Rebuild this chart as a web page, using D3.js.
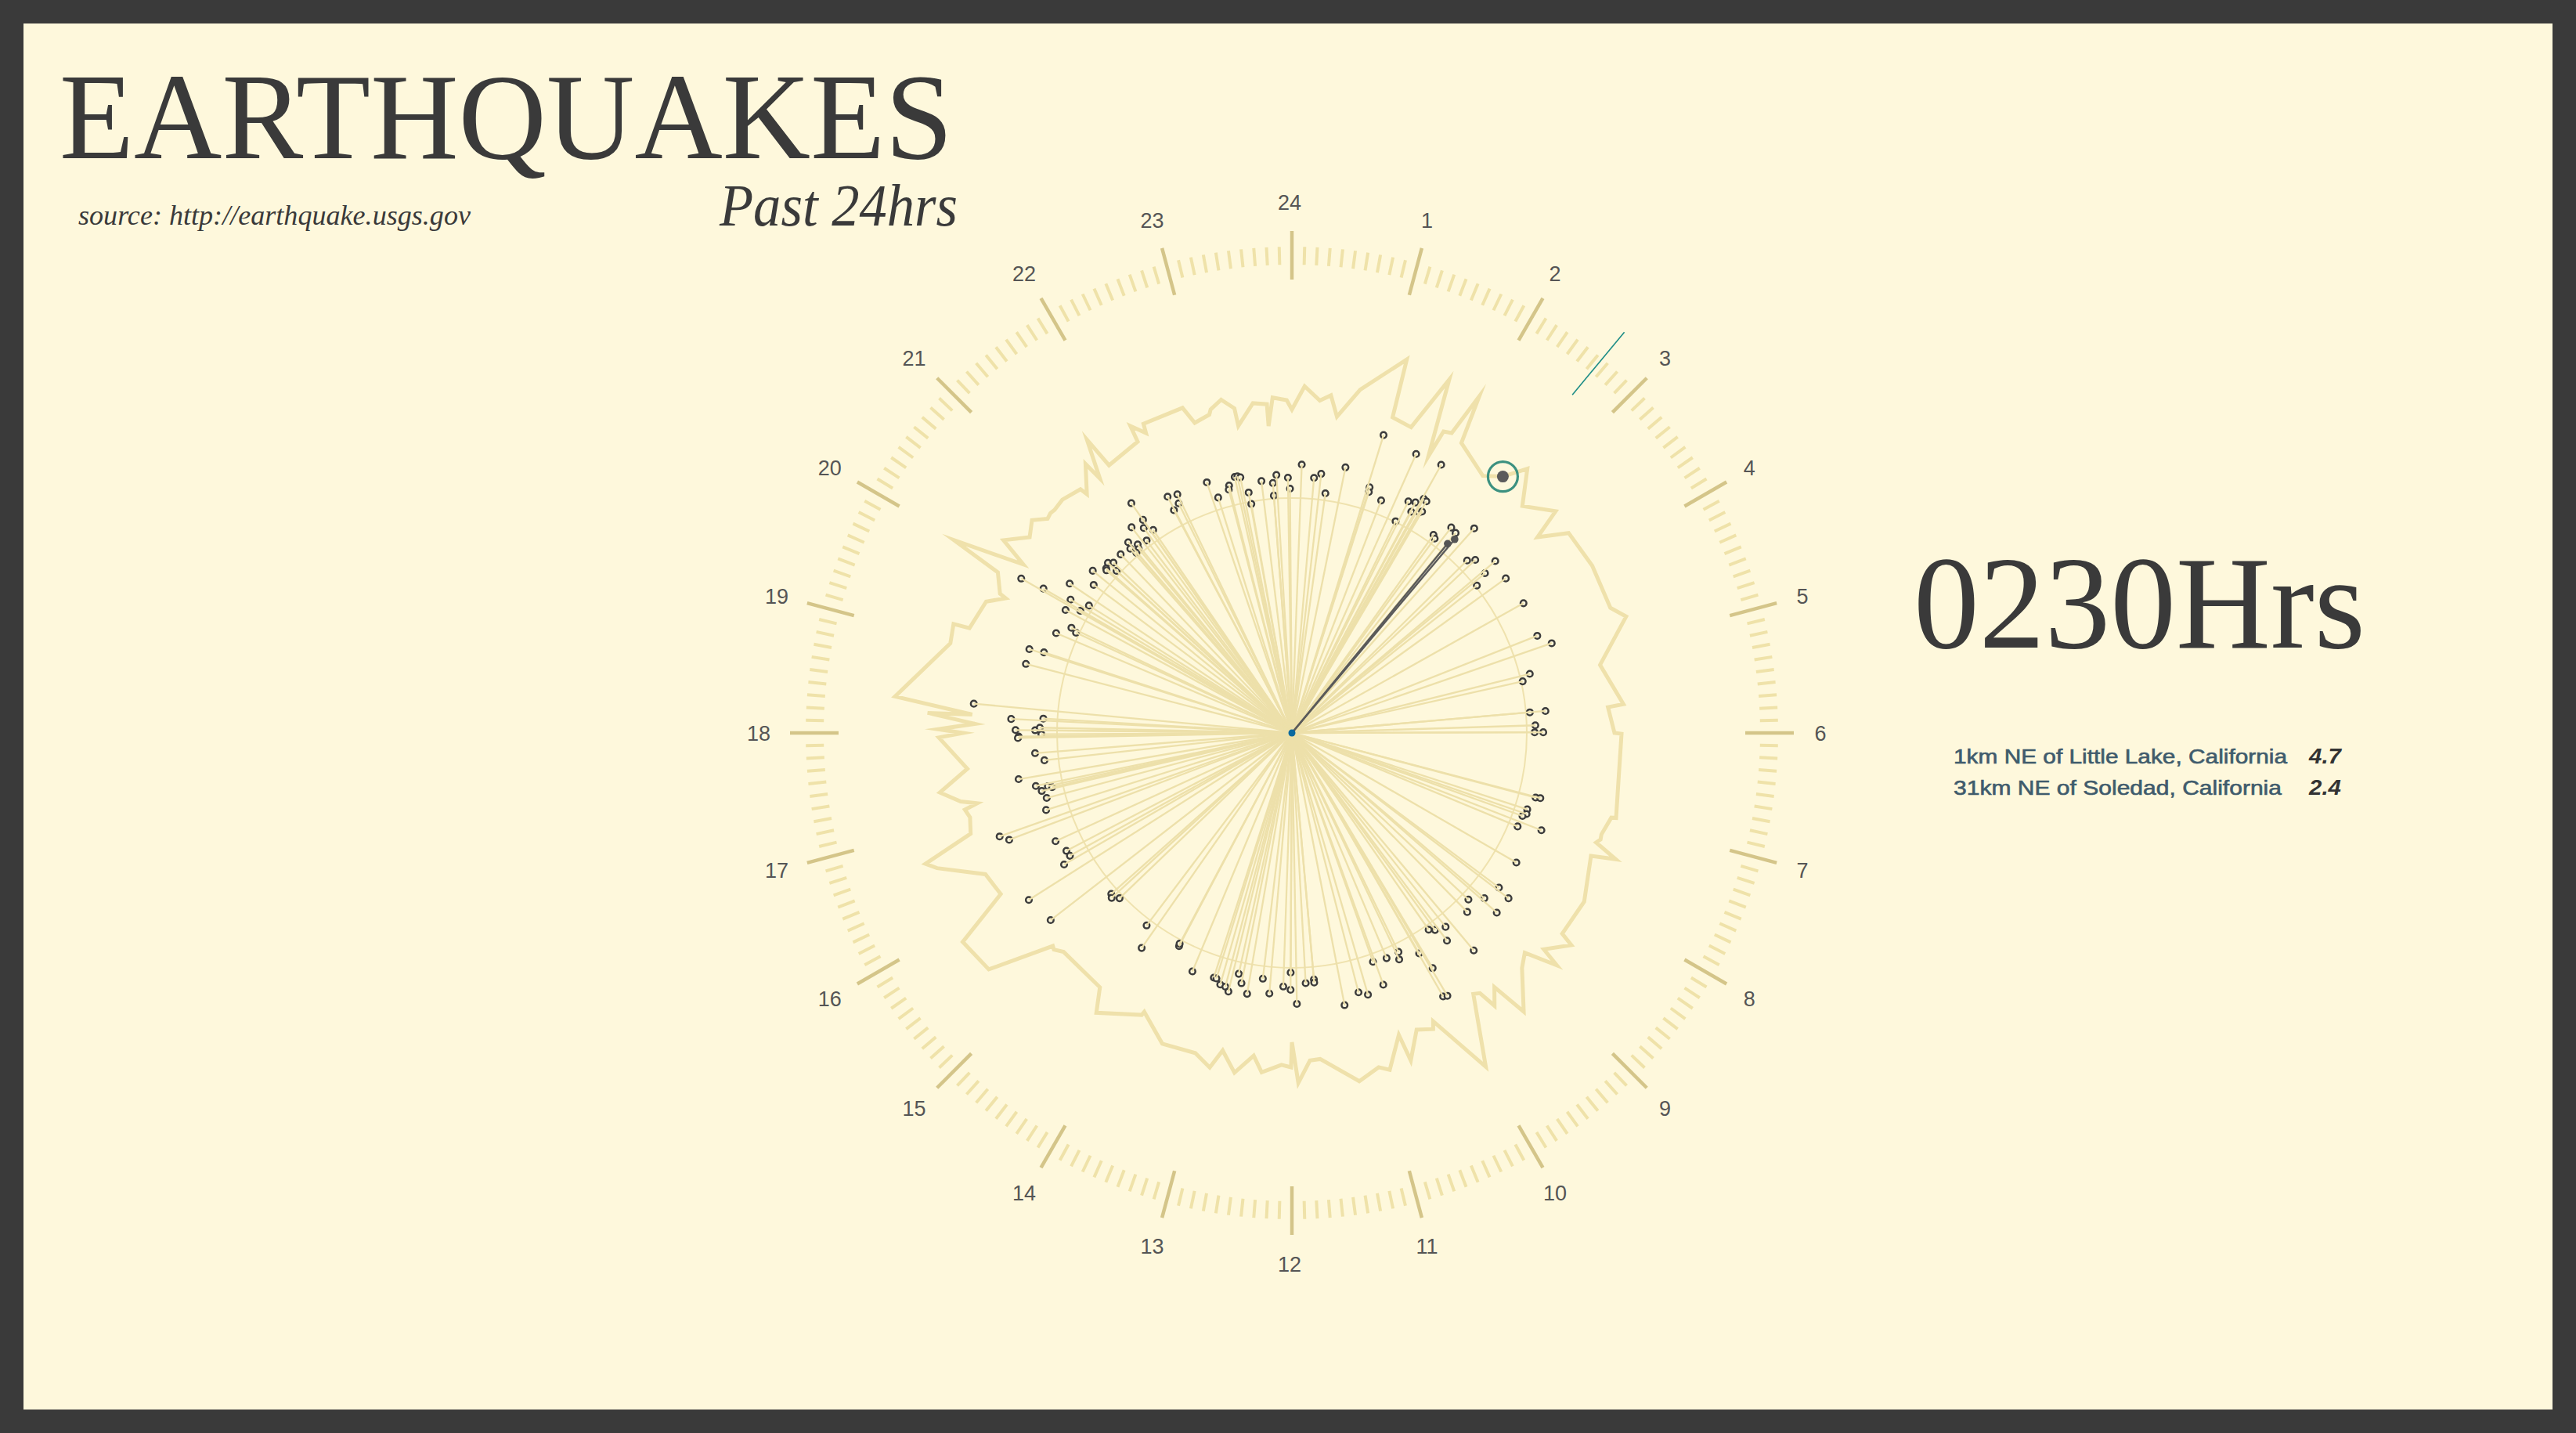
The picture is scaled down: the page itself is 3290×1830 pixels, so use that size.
<!DOCTYPE html>
<html><head><meta charset="utf-8">
<script src="https://cdn.jsdelivr.net/npm/d3@7"></script>
<style>
html,body{margin:0;padding:0;background:#3a3a3a;}
svg{display:block;}
</style></head><body>
<svg id="chart" width="3290" height="1830"></svg>
<script>
// ---------------- data ----------------
const hourLabels = [24,1,2,3,4,5,6,7,8,9,10,11,12,13,14,15,16,17,18,19,20,21,22,23];

// quakes: [hour of day, distance value]
const quakes = [
[21.67,358],[22.15,341],[22.29,338],[22.25,327],[22.14,322],[22.75,338],[22.84,315],[23.05,326],[23.03,321],[23.16,335],
[23.20,335],[23.24,333],[23.32,312],[23.33,297],[23.54,324],[23.71,320],[23.71,304],[23.77,330],[23.94,326],[23.97,312],
[21.67,332],[21.47,333],[21.61,323],[21.71,314],[21.53,308],[21.29,321],[21.25,313],[21.38,311],[21.35,306],[21.28,304],
[21.08,316],[20.85,320],[20.91,315],[20.77,317],[20.75,315],[20.85,305],[20.61,328],[20.45,316],[20.26,342],[19.98,398],
[20.01,367],[20.07,330],[20.14,306],[19.90,329],[20.00,312],[19.70,312],[19.66,304],[19.53,327],[19.18,352],[19.20,333],
[18.97,351],[18.35,408],[18.19,359],[18.22,318],[18.04,353],[18.04,328],[18.08,322],
[17.95,349],[17.93,350],[17.98,320],[17.70,329],[17.58,318],[17.36,354],[17.22,334],[17.13,328],[17.18,319],[17.15,314],
[17.01,324],[16.84,329],[16.70,396],[16.62,386],[16.36,332],[16.16,325],[16.07,324],[16.00,336],[15.84,398],[15.48,390],
[15.22,309],[15.17,312],[15.08,305],[14.47,308],[14.33,335],[13.86,308],[13.87,305],[13.51,330],[13.18,328],[13.14,328],
[13.06,334],[12.98,335],[12.92,340],[12.83,315],[12.76,326],[12.65,338],[12.45,316],[12.33,334],[12.13,324],[12.02,328],[12.02,306],
[1.14,398],[1.60,390],[1.94,392],[0.14,343],[0.33,327],[0.43,333],[0.76,346],[0.53,309],[1.17,329],[1.18,323],
[1.40,318],[1.74,301],[1.78,331],[1.88,334],[1.96,343],[2.01,342],[1.89,321],[2.00,325],[2.03,328],[2.37,311],
[2.42,308],[2.52,332],[2.62,330],[2.78,350],[3.03,314],[3.11,322],[3.32,340],[3.36,320],[3.43,302],[3.61,337],
[4.05,339],[4.56,337],[4.73,351],[5.07,313],[5.16,302],[5.67,305],[5.67,325],[5.88,311],[5.99,310],[5.99,321],
[6.99,322],[6.98,328],[7.20,316],[7.27,317],[7.32,313],[7.50,312],[7.42,342],[8.00,331],[8.45,330],[8.49,348],
[8.71,324],[8.89,310],[9.04,320],[8.75,348],[9.44,316],[9.68,306],[9.60,311],[9.55,331],[9.34,362],[10.27,311],
[10.31,320],[10.00,325],[10.48,312],[10.70,310],[9.94,350],[10.01,388],[9.96,390],[10.67,342],[10.92,348],[11.04,342],
[11.27,354],[11.66,316],[11.66,320],[11.79,320],[11.93,346]
];

// activity trail: [hour, value]
const trail = [
[0.00,413],[0.14,443],[0.32,426],[0.44,434],[0.54,408],[0.75,447],[1.14,499],[1.18,423],[1.42,419],[1.60,494],
[1.75,394],[1.78,431],[1.87,434],[1.94,492],[2.02,429],[2.44,409],[2.63,424],[2.78,452],[3.03,413],[3.33,440],
[3.43,401],[3.61,436],[4.06,439],[4.57,437],[4.72,452],[5.17,403],[5.67,425],[5.69,405],[6.00,412],[6.01,421],
[6.98,428],[6.99,422],[7.21,416],[7.27,417],[7.32,413],[7.42,444],[7.49,413],[8.00,431],[8.44,430],[8.48,448],
[8.71,424],[8.75,450],[8.89,409],[9.04,420],[9.35,463],[9.43,415],[9.56,434],[9.61,410],[9.68,406],[9.99,493],
[10.26,410],[10.30,419],[10.48,411],[10.67,445],[10.70,409],[10.92,448],[11.03,441],[11.27,453],[11.67,418],[11.79,419],
[11.93,447],[12.00,395],[12.01,427],[12.12,424],[12.34,435],[12.45,415],[12.64,440],[12.82,415],[12.92,440],[13.12,427],
[13.51,430],[13.86,403],[13.87,408],[14.33,436],[14.47,407],[15.08,404],[15.18,411],[15.22,409],[15.47,491],[15.84,498],
[16.07,425],[16.35,431],[16.61,485],[16.69,497],[16.84,430],[17.02,425],[17.12,429],[17.16,412],[17.22,432],[17.36,456],
[17.58,417],[17.95,451],[18.00,420],[18.04,452],[18.11,405],[18.21,466],[18.22,409],[18.35,509],[18.98,451],[19.19,454],
[19.20,433],[19.55,425],[19.68,404],[19.70,413],[19.91,428],[19.98,497],[20.14,405],[20.25,443],[20.45,418],[20.62,429],
[20.75,415],[20.82,417],[20.88,416],[21.03,418],[21.27,412],[21.29,402],[21.50,433],[21.53,407],[21.67,457],[21.71,414],
[22.14,421],[22.15,443],[22.27,426],[22.29,438],[22.76,438],[22.84,415],[23.03,420],[23.06,426],[23.20,435],[23.33,421],
[23.34,398],[23.55,424],[23.71,421],[23.71,393],[23.78,429],[23.94,425]
];

const featuredHours = [2.67, 2.63];
const featuredDistance = [323, 313];
const featuredPlaces = ["1km NE of Little Lake, California", "31km NE of Soledad, California"];
const featuredMags = ["4.7", "2.4"];
const currentHour = 2.645;
const currentValue = 424;
const currentLabel = "0230Hrs";
const ringValue = 300;

// ---------------- drawing ----------------
const svg = d3.select("#chart");
svg.append("rect").attr("width",3290).attr("height",1830).attr("fill","#3a3a3a");
svg.append("rect").attr("x",30).attr("y",30).attr("width",3230).attr("height",1770).attr("fill","#fef8dc");

const cx = 1650, cy = 936;
const a = d3.scaleLinear().domain([0,24]).range([0, 2*Math.PI]);
const r = d3.scaleLinear().domain([0,700]).range([0,700]);
const g = svg.append("g").attr("transform",`translate(${cx},${cy})`);
const pt = (h, v) => d3.pointRadial(a(h), r(v));

// inner ring
g.append("circle").attr("r", r(ringValue)).attr("fill","none").attr("stroke","#efe2ae").attr("stroke-width",2);

// activity trail
const line = d3.lineRadial().angle(d=>a(d[0])).radius(d=>r(d[1])).curve(d3.curveLinearClosed);
g.append("path").datum(trail).attr("d", line).attr("fill","none")
  .attr("stroke","#efe1ab").attr("stroke-width",5).attr("stroke-linejoin","miter").attr("stroke-miterlimit",8);

// ticks
const tickHours = d3.range(240).map(i=>i/10);
g.selectAll("line.tick").data(tickHours).join("line").attr("class","tick")
  .each(function(h,i){
    const major = i % 10 === 0;
    const p1 = pt(h, major ? 579 : 598), p2 = pt(h, major ? 641 : 621);
    d3.select(this).attr("x1",p1[0]).attr("y1",p1[1]).attr("x2",p2[0]).attr("y2",p2[1])
      .attr("stroke", major ? "#d4c589" : "#efe2a9").attr("stroke-width", major ? 4.5 : 4);
  });

// hour labels
g.selectAll("text.hour").data(hourLabels).join("text").attr("class","hour")
  .attr("x",(d,i)=>pt(i,678)[0] - 3).attr("y",(d,i)=>pt(i,678)[1] + 1)
  .attr("text-anchor","middle").attr("dominant-baseline","central")
  .attr("font-family","Liberation Sans, Arial, sans-serif").attr("font-size",27).attr("fill","#555")
  .text(d=>d);

// quake dots
g.selectAll("circle.q").data(quakes).join("circle").attr("class","q")
  .attr("cx",d=>pt(d[0],d[1])[0]).attr("cy",d=>pt(d[0],d[1])[1]).attr("r",3.8)
  .attr("fill","#fef8dc").attr("stroke","#3c3c3c").attr("stroke-width",2.5);
// spokes
g.selectAll("line.s").data(quakes).join("line").attr("class","s")
  .attr("x1",0).attr("y1",0)
  .attr("x2",d=>pt(d[0],d[1])[0]).attr("y2",d=>pt(d[0],d[1])[1])
  .attr("stroke","#ede0aa").attr("stroke-width",2.3);

// featured quakes
featuredHours.forEach((h,i)=>{
  const p = pt(h, featuredDistance[i]);
  g.append("line").attr("x1",0).attr("y1",0).attr("x2",p[0]).attr("y2",p[1])
    .attr("stroke","#5a5a5a").attr("stroke-width",2.4);
  g.append("circle").attr("cx",p[0]).attr("cy",p[1]).attr("r",4.8).attr("fill","#555");
});

// center
g.append("circle").attr("r",4.5).attr("fill","#0b6a9f");

// hand
{
  const p1 = pt(currentHour,561), p2 = pt(currentHour,665);
  g.append("line").attr("x1",p1[0]).attr("y1",p1[1]).attr("x2",p2[0]).attr("y2",p2[1])
    .attr("stroke","#1c8c86").attr("stroke-width",1.6);
  const m = pt(2.63, currentValue);
  g.append("circle").attr("cx",m[0]).attr("cy",m[1]).attr("r",19).attr("fill","none")
    .attr("stroke","#3c9180").attr("stroke-width",3.2);
  g.append("circle").attr("cx",m[0]).attr("cy",m[1]).attr("r",7.5).attr("fill","#5b5b5b");
}

// titles
const serif = "Liberation Serif, Times New Roman, serif";
svg.append("text").attr("x",76).attr("y",202).attr("font-family",serif).attr("font-size",157)
  .attr("fill","#3a3a3a").attr("textLength",1141).attr("lengthAdjust","spacingAndGlyphs").text("EARTHQUAKES");
svg.append("text").attr("x",919).attr("y",288).attr("font-family",serif).attr("font-style","italic")
  .attr("font-size",77).attr("fill","#3a3a3a").attr("textLength",304).attr("lengthAdjust","spacingAndGlyphs").text("Past 24hrs");
svg.append("text").attr("x",100).attr("y",287).attr("font-family",serif).attr("font-style","italic")
  .attr("font-size",35).attr("fill","#3a3a3a").attr("textLength",501).attr("lengthAdjust","spacingAndGlyphs")
  .text("source: http://earthquake.usgs.gov");
svg.append("text").attr("x",2444).attr("y",827).attr("font-family",serif).attr("font-size",170)
  .attr("fill","#3a3a3a").attr("textLength",577).attr("lengthAdjust","spacingAndGlyphs").text(currentLabel);

const placeWidths = [426, 419];
featuredPlaces.forEach((t,i)=>{
  svg.append("text").attr("x",2495).attr("y",975+i*40).attr("font-family","Liberation Sans, Arial, sans-serif")
    .attr("font-size",25).attr("fill","#3f5b6c").attr("stroke","#3f5b6c").attr("stroke-width",0.6)
    .attr("textLength",placeWidths[i]).attr("lengthAdjust","spacingAndGlyphs").text(t);
  svg.append("text").attr("x",2949).attr("y",975+i*40).attr("font-family","Liberation Sans, Arial, sans-serif")
    .attr("font-size",27).attr("font-style","italic").attr("font-weight","bold").attr("fill","#333")
    .attr("textLength",41).attr("lengthAdjust","spacingAndGlyphs").text(featuredMags[i]);
});
</script>
</body></html>
